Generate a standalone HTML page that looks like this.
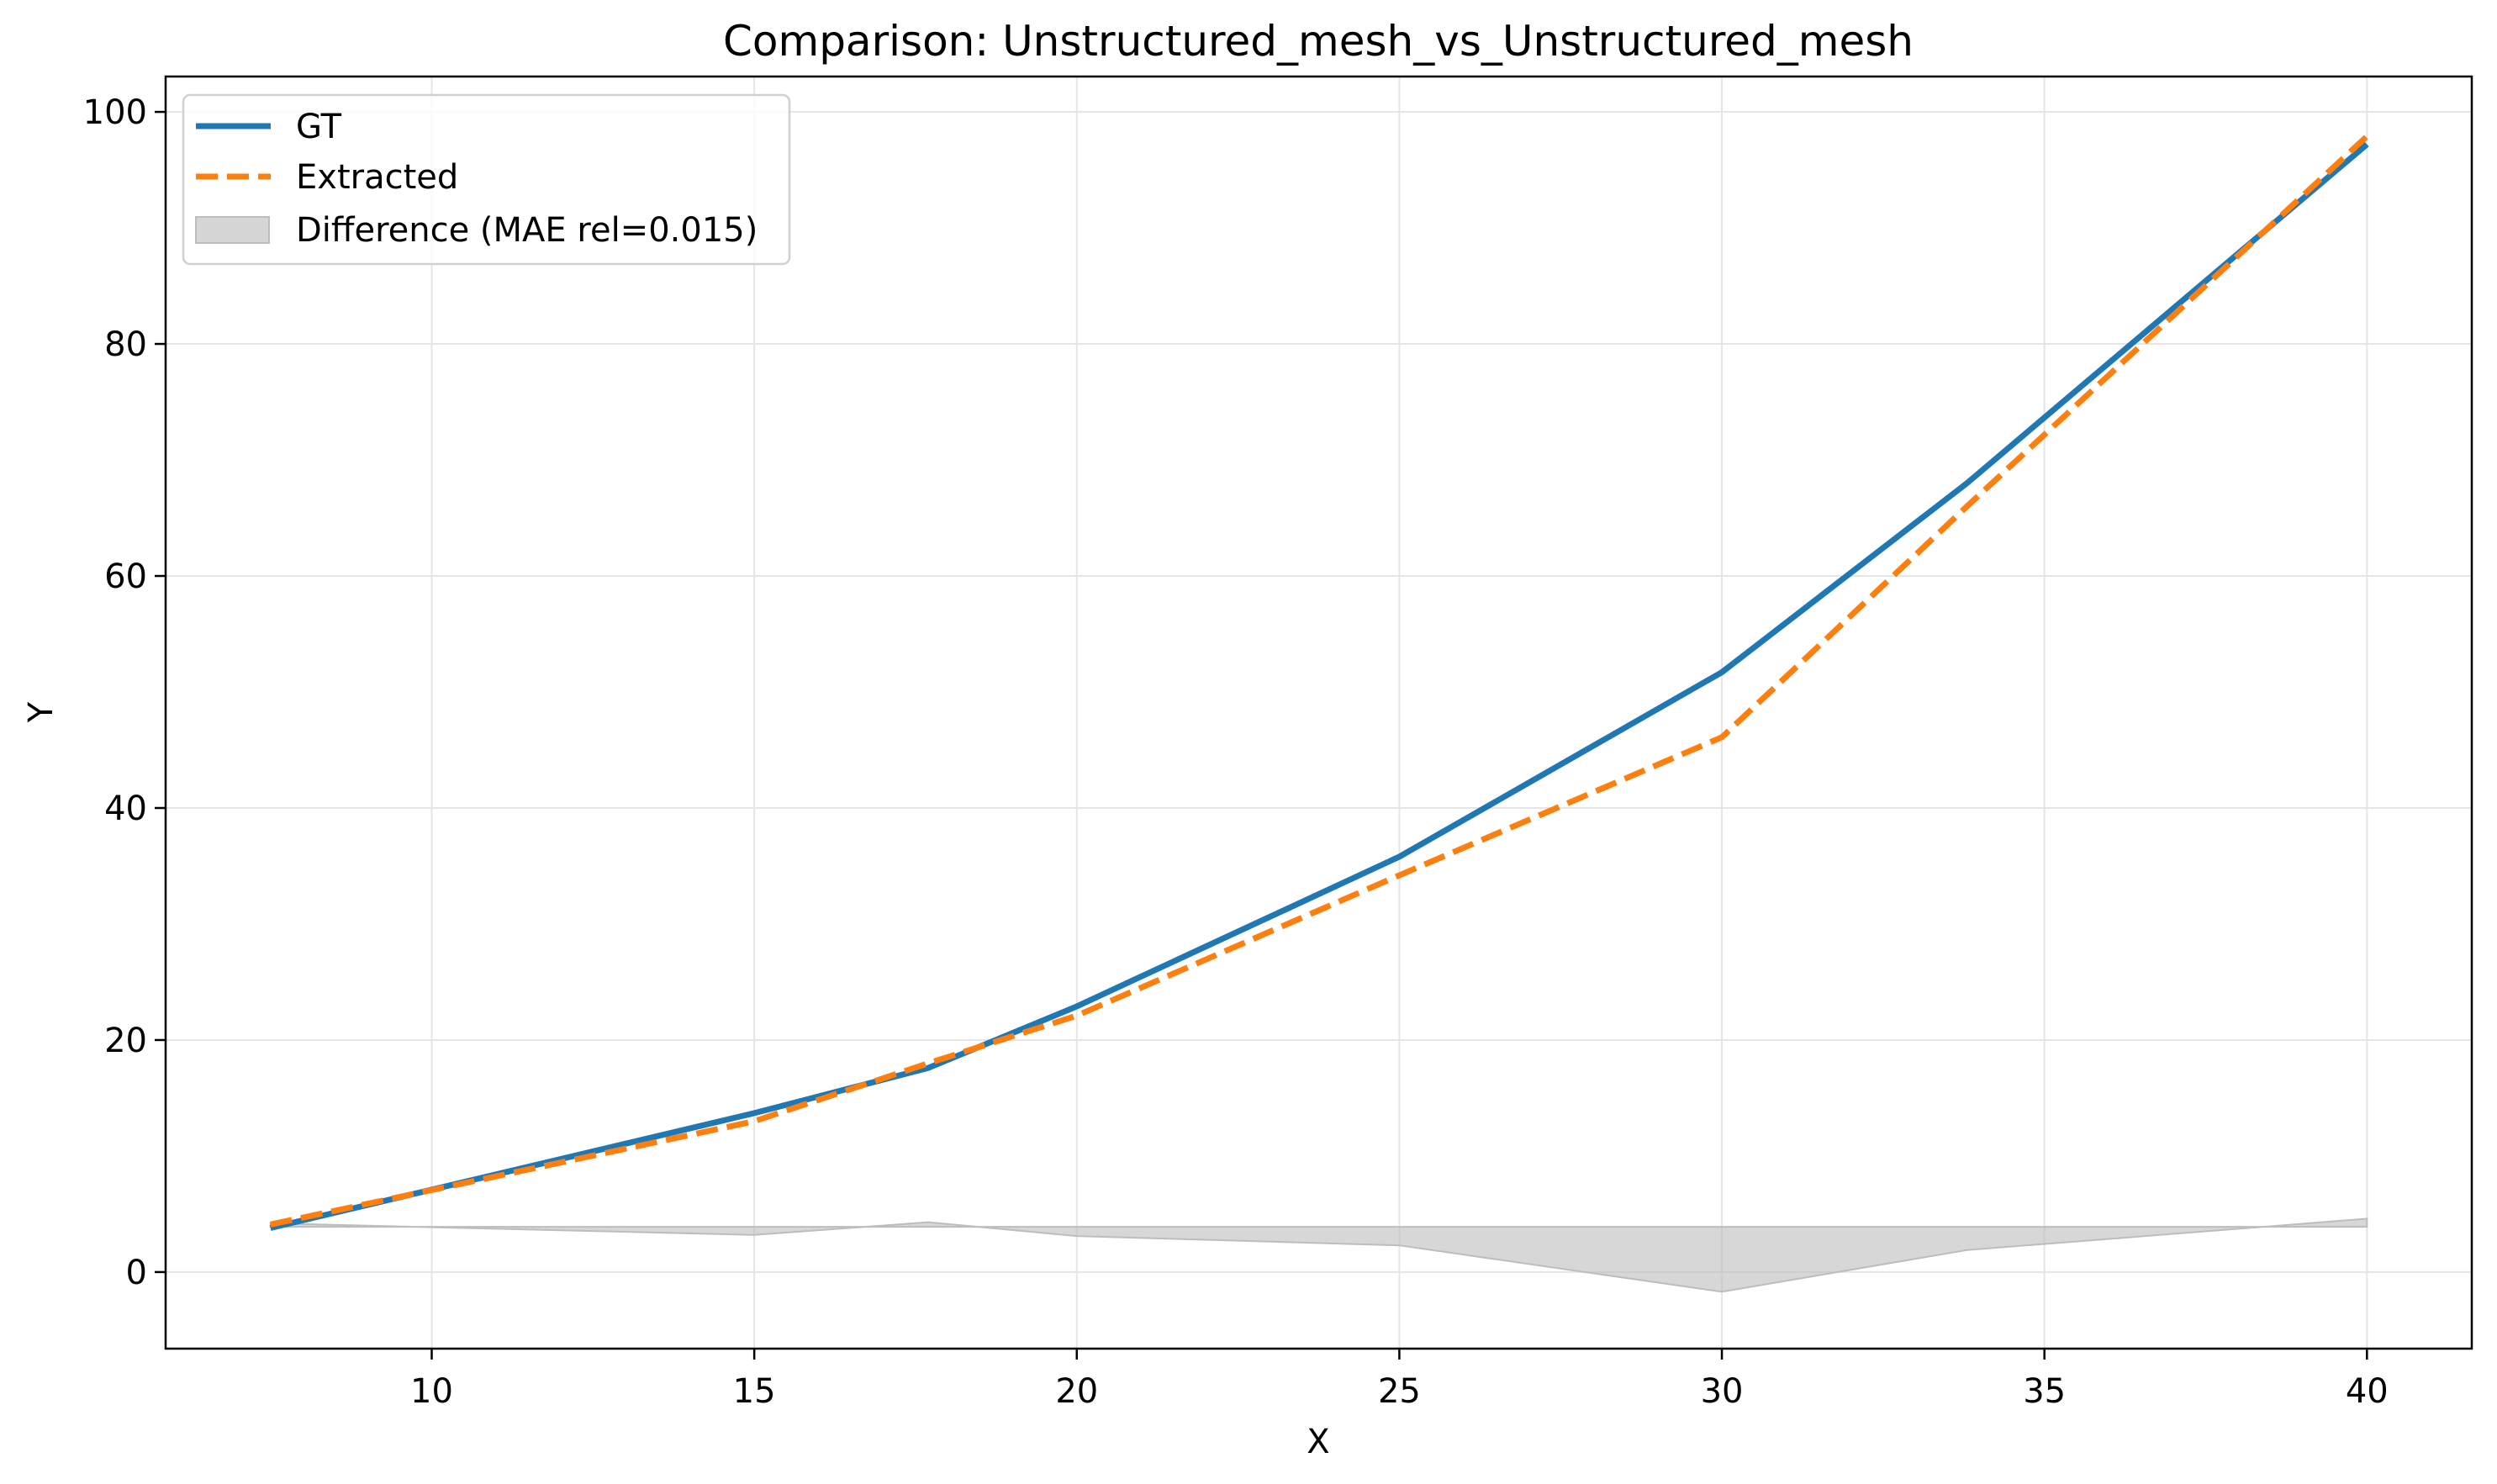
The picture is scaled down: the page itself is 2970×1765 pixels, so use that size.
<!DOCTYPE html>
<html><head><meta charset="utf-8"><style>
html,body{margin:0;padding:0;background:#fff;}
svg{display:block;font-family:"DejaVu Sans","Liberation Sans",sans-serif;}
</style></head><body>
<svg id="chart" width="2970" height="1765" viewBox="0 0 2970 1765" xmlns="http://www.w3.org/2000/svg">
<rect width="2970" height="1765" fill="#fff"/>
<g id="grid"></g>
<g id="fill"></g>
<g id="lines"></g>
<rect x="197" y="91" width="2743" height="1513" fill="none" stroke="#000" stroke-width="2.5"/>
<g id="ticks"></g>
<text x="1568" y="66" text-anchor="middle" font-size="50">Comparison: Unstructured_mesh_vs_Unstructured_mesh</text>
<text x="1568" y="1728" text-anchor="middle" font-size="40">X</text>
<text x="0" y="0" transform="translate(62,847) rotate(-90)" text-anchor="middle" font-size="40">Y</text>
<g>
<rect x="218" y="113" width="721" height="201" rx="8" fill="#fff" fill-opacity="0.8" stroke="#d0d0d0" stroke-width="2.5"/>
<g>
<line x1="233" y1="150" x2="322" y2="150" stroke="#1f77b4" stroke-width="7"/>
<text x="352" y="164" font-size="40">GT</text></g>
<g>
<line x1="233" y1="210" x2="322" y2="210" stroke="#ff7f0e" stroke-width="7" stroke-dasharray="26,11"/>
<text x="352" y="224" font-size="40">Extracted</text></g>
<g>
<rect x="233" y="258" width="87" height="31" fill="#d6d6d6" stroke="#bdbdbd" stroke-width="2"/>
<text x="352" y="287" font-size="40">Difference (MAE rel=0.015)</text></g>
</g>
</svg>
<script>
const xs = [7.5, 15, 17.7, 20, 25, 30, 33.8, 40];
const gtValues = [3.8, 13.7, 17.6, 22.9, 35.8, 51.7, 68.0, 97.2];
const extractedValues = [4.1, 13.0, 18.0, 22.1, 34.2, 46.1, 66.0, 97.9];
const diffBase = 3.9;
const xTicks = [10, 15, 20, 25, 30, 35, 40];
const yTicks = [0, 20, 40, 60, 80, 100];

const PL=197,PR=2940,PT=91,PB=1604;
const xMin=5.875,xMax=41.625,yMin=-6.6,yMax=103.05;
const sx=v=>PL+(v-xMin)/(xMax-xMin)*(PR-PL);
const sy=v=>PB-(v-yMin)/(yMax-yMin)*(PB-PT);
const NS="http://www.w3.org/2000/svg";
function mk(tag,attrs,parent){const e=document.createElementNS(NS,tag);for(const k in attrs)e.setAttribute(k,attrs[k]);parent.appendChild(e);return e;}
const gridG=document.getElementById('grid'),ticksG=document.getElementById('ticks');
xTicks.forEach(t=>{
  const g=mk('line',{x1:sx(t),x2:sx(t),y1:PT,y2:PB,stroke:'#e5e5e5','stroke-width':2},gridG);
  
  
  const tk=mk('line',{x1:sx(t),x2:sx(t),y1:PB,y2:PB+13,stroke:'#000','stroke-width':2.5},ticksG);
  
  
  const tx=mk('text',{x:sx(t),y:PB+64,'text-anchor':'middle','font-size':40},ticksG);
  tx.textContent=t;
  
  
});
yTicks.forEach(t=>{
  const g=mk('line',{x1:PL,x2:PR,y1:sy(t),y2:sy(t),stroke:'#e5e5e5','stroke-width':2},gridG);
  
  
  const tk=mk('line',{x1:PL-13,x2:PL,y1:sy(t),y2:sy(t),stroke:'#000','stroke-width':2.5},ticksG);
  
  
  const tx=mk('text',{x:PL-22,y:sy(t)+14,'text-anchor':'end','font-size':40},ticksG);
  tx.textContent=t;
  
  
});
const upperPts=xs.map((x,i)=>sx(x)+','+sy(diffBase+extractedValues[i]-gtValues[i]));
const basePts=xs.slice().reverse().map(x=>sx(x)+','+sy(diffBase));
const poly=mk('polygon',{points:upperPts.concat(basePts).join(' '),fill:'#bdbdbd','fill-opacity':0.6,stroke:'#bdbdbd','stroke-width':2},document.getElementById('fill'));


const linesG=document.getElementById('lines');
const gt=mk('polyline',{points:xs.map((x,i)=>sx(x)+','+sy(gtValues[i])).join(' '),fill:'none',stroke:'#1f77b4','stroke-width':7,'stroke-linejoin':'round'},linesG);


const ex=mk('polyline',{points:xs.map((x,i)=>sx(x)+','+sy(extractedValues[i])).join(' '),fill:'none',stroke:'#ff7f0e','stroke-width':7,'stroke-dasharray':'26,11','stroke-linejoin':'round'},linesG);


</script>
</body></html>
